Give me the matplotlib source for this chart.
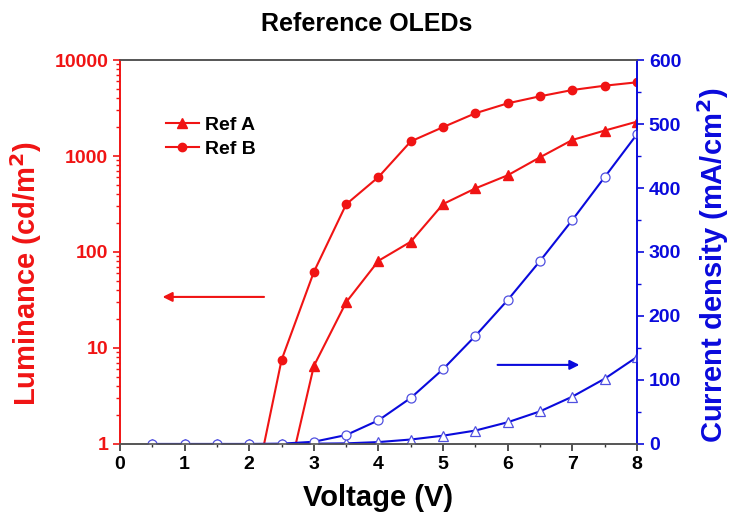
import matplotlib
matplotlib.use("Agg")
import matplotlib.pyplot as plt
from matplotlib.ticker import LogLocator, NullFormatter, MultipleLocator

plt.rcParams['font.family'] = ['Liberation Sans', 'DejaVu Sans']
plt.rcParams['font.weight'] = 'bold'

RED = '#F01414'
BLUE = '#0A0ADC'

# Luminance data
volt_lum_a = [2.5, 3.0, 3.5, 4.0, 4.5, 5.0, 5.5, 6.0, 6.5, 7.0, 7.5, 8.0]
lum_a = [0.23, 6.5, 30, 81, 128, 316, 460, 630, 970, 1470, 1840, 2280]
volt_lum_b = [2.0, 2.5, 3.0, 3.5, 4.0, 4.5, 5.0, 5.5, 6.0, 6.5, 7.0, 7.5, 8.0]
lum_b = [0.18, 7.5, 62, 314, 604, 1420, 2000, 2790, 3540, 4190, 4870, 5400, 5860]

# Current density data
volt_j = [0.5, 1.0, 1.5, 2.0, 2.5, 3.0, 3.5, 4.0, 4.5, 5.0, 5.5, 6.0, 6.5, 7.0, 7.5, 8.0]
j_a = [0, 0, 0, 0, 0, 0.5, 1, 3, 7, 13, 21, 34, 51, 74, 102, 136]
j_b = [0, 0, 0, 0, 0.5, 3.5, 14, 37, 72, 117, 169, 225, 286, 350, 417, 484]

x_ticks = [0, 1, 2, 3, 4, 5, 6, 7, 8]
lum_ticks = [1, 10, 100, 1000, 10000]
lum_labels = ['1', '10', '100', '1000', '10000']
j_ticks = [0, 100, 200, 300, 400, 500, 600]

fig = plt.figure(figsize=(7.33, 5.25), dpi=100)
ax = fig.add_axes([0.1637, 0.1543, 0.8690 - 0.1637, 0.8857 - 0.1543])
ax2 = ax.twinx()

ax.plot(volt_lum_a, lum_a, '-^', color=RED, lw=1.5, ms=7, label='Ref A')
ax.plot(volt_lum_b, lum_b, '-o', color=RED, lw=1.5, ms=6, label='Ref B')
ax.set_yscale('log')
ax.set_ylim(1, 10000)
ax.set_xlim(0, 8)
ax.set_yticks(lum_ticks)
ax.set_yticklabels(lum_labels)
ax.yaxis.set_minor_locator(LogLocator(base=10, subs=range(2, 10)))
ax.yaxis.set_minor_formatter(NullFormatter())
ax.set_xticks(x_ticks)
ax.xaxis.set_minor_locator(MultipleLocator(0.5))

ax2.plot(volt_j, j_a, '-^', color=BLUE, lw=1.5, ms=7, mfc='white', mec='#5050E0', mew=0.9)
ax2.plot(volt_j, j_b, '-o', color=BLUE, lw=1.5, ms=6.5, mfc='white', mec='#5050E0', mew=0.9)
ax2.set_ylim(0, 600)
ax2.set_yticks(j_ticks)
ax2.yaxis.set_minor_locator(MultipleLocator(50))

# spines
for a in (ax, ax2):
    a.spines['top'].set_color('#555555')
    a.spines['bottom'].set_color('#555555')
    a.spines['left'].set_color(RED)
    a.spines['right'].set_color(BLUE)
    for s in a.spines.values():
        s.set_linewidth(1.2)

ax.tick_params(axis='y', which='major', colors=RED, labelsize=14, length=5, width=1.2, direction='out')
ax.tick_params(axis='y', which='minor', colors=RED, length=3, width=1, direction='out')
ax.tick_params(axis='x', which='major', colors='#333333', labelcolor='black', labelsize=14, length=5, width=1.2, direction='out')
ax.tick_params(axis='x', which='minor', colors='#333333', length=2.5, width=1, direction='out')
ax2.tick_params(axis='y', which='major', colors=BLUE, labelsize=14, length=5, width=1.2, direction='out')
ax2.tick_params(axis='y', which='minor', colors=BLUE, length=3, width=1, direction='out')

for lbl in ax.get_xticklabels() + ax.get_yticklabels() + ax2.get_yticklabels():
    lbl.set_fontweight('bold')

ax.set_xlabel('Voltage (V)', fontsize=21, fontweight='bold', labelpad=8)
ax.set_ylabel('Luminance (cd/m$\\mathbf{^2}$)', fontsize=21, fontweight='bold', color=RED)
ax.yaxis.set_label_coords(-0.147, 0.443)
ax2.set_ylabel('Current density (mA/cm$\\mathbf{^2}$)', fontsize=21, fontweight='bold', color=BLUE)
ax2.yaxis.set_label_coords(1.112, 0.465)
fig.text(0.5, 1 - 24 / 525, 'Reference OLEDs', fontsize=18, fontweight='bold',
         ha='center', va='center')

leg = ax.legend(loc='upper left', bbox_to_anchor=(0.055, 0.90), frameon=False,
                fontsize=14, handlelength=1.7, handletextpad=0.3, labelspacing=0.35)
for t in leg.get_texts():
    t.set_fontweight('bold')

# direction arrows (axes-fraction coordinates)
ax.annotate('', xy=(0.077, 0.383), xytext=(0.284, 0.383), xycoords='axes fraction',
            arrowprops=dict(arrowstyle='-|>', color=RED, lw=1.5, mutation_scale=14))
ax2.annotate('', xy=(0.894, 0.206), xytext=(0.725, 0.206), xycoords='axes fraction',
             arrowprops=dict(arrowstyle='-|>', color=BLUE, lw=1.5, mutation_scale=14))

fig.savefig('out.png', dpi=100)
